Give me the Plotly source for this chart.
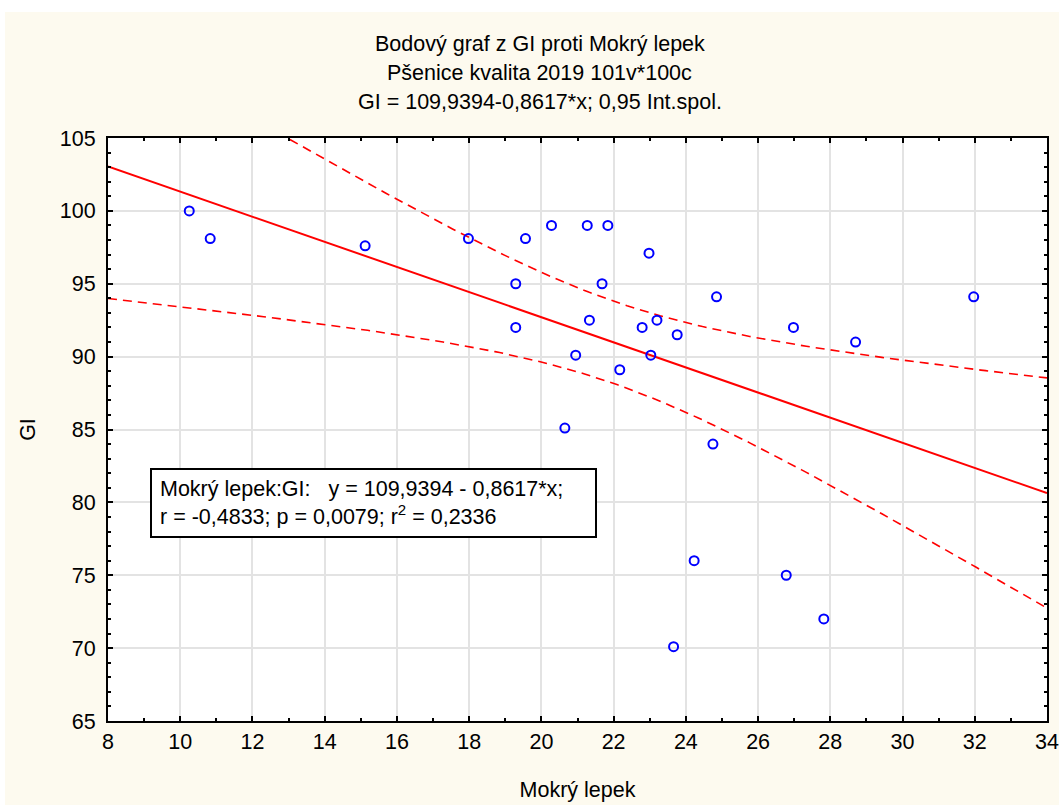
import numpy as np
import plotly.graph_objects as go

# ---- data ----
mokry_lepek = [10.25, 10.83, 15.12, 17.98, 19.56, 20.28, 21.27, 21.84, 22.98,
               19.29, 21.68, 24.85, 26.98, 19.29, 21.33, 22.79, 23.20, 23.76,
               20.95, 23.03, 22.17, 20.65, 24.75, 28.70, 31.97, 24.23, 26.78,
               27.82, 23.66]
gi = [100.0, 98.1, 97.6, 98.1, 98.1, 99.0, 99.0, 99.0, 97.1,
      95.0, 95.0, 94.1, 92.0, 92.0, 92.5, 92.0, 92.5, 91.5,
      90.1, 90.1, 89.1, 85.1, 84.0, 91.0, 94.1, 76.0, 75.0,
      72.0, 70.1]

intercept = 109.9394
slope = -0.8617
conf_t = 2.0518  # t(0.975, n-2) for n = 29

x_ticks = [8, 10, 12, 14, 16, 18, 20, 22, 24, 26, 28, 30, 32, 34]
y_ticks = [65, 70, 75, 80, 85, 90, 95, 100, 105]

title_lines = ["Bodový graf z GI proti Mokrý lepek",
               "Pšenice kvalita 2019 101v*100c",
               "GI = 109,9394-0,8617*x; 0,95 Int.spol."]
box_text = ("Mokrý lepek:GI:   y = 109,9394 - 0,8617*x;<br>"
            "r = -0,4833; p = 0,0079; r<sup>2</sup> = 0,2336")

# ---- regression line and 95% confidence band ----
xa = np.array(mokry_lepek)
ya = np.array(gi)
n = len(xa)
xm = xa.mean()
sxx = ((xa - xm) ** 2).sum()
resid = ya - (intercept + slope * xa)
s = np.sqrt((resid ** 2).sum() / (n - 2))
xl = np.linspace(x_ticks[0], x_ticks[-1], 200)
yl = intercept + slope * xl
hw = conf_t * s * np.sqrt(1.0 / n + (xl - xm) ** 2 / sxx)

FONT = "Liberation Sans, Arial, sans-serif"
RED = "#FF0000"
FS = 21.5

# plot area geometry (pixels)
W, H = 1059, 805
L, R, T, B = 108, 12, 138, 84
PW, PH = W - L - R, H - T - B

fig = go.Figure()
fig.add_trace(go.Scatter(x=xl, y=yl, mode="lines",
                         line=dict(color=RED, width=2), showlegend=False,
                         hoverinfo="skip"))
fig.add_trace(go.Scatter(x=xl, y=yl + hw, mode="lines",
                         line=dict(color=RED, width=1.6, dash="9px,6px"),
                         showlegend=False, hoverinfo="skip"))
fig.add_trace(go.Scatter(x=xl, y=yl - hw, mode="lines",
                         line=dict(color=RED, width=1.6, dash="9px,6px"),
                         showlegend=False, hoverinfo="skip"))
fig.add_trace(go.Scatter(x=mokry_lepek, y=gi, mode="markers",
                         marker=dict(symbol="circle-open", size=9,
                                     color="#0000FF",
                                     line=dict(width=2, color="#0000FF")),
                         showlegend=False))

axis_common = dict(
    showline=True, linecolor="black", linewidth=2, mirror="ticks",
    ticks="inside", ticklen=5, tickwidth=1.5, tickcolor="black",
    showgrid=True, gridcolor="#E3E3E3", gridwidth=2, zeroline=False,
    automargin=False,
    tickfont=dict(family=FONT, size=FS, color="black"),
    minor=dict(ticks="inside", ticklen=3, tickwidth=1.5, tickcolor="black",
               dtick=1, showgrid=False),
)

fig.update_xaxes(range=[x_ticks[0], x_ticks[-1]], tickvals=x_ticks,
                 title=dict(text="Mokrý lepek", standoff=29,
                            font=dict(family=FONT, size=FS, color="black")),
                 **axis_common)
fig.update_yaxes(range=[y_ticks[0], y_ticks[-1]], tickvals=y_ticks,
                 ticklabelstandoff=6,
                 title=dict(text="GI", standoff=18,
                            font=dict(family=FONT, size=FS, color="black")),
                 **axis_common)

annotations = []
title_y = [1.162, 1.112, 1.062]
for txt, yy in zip(title_lines, title_y):
    annotations.append(dict(text=txt, xref="paper", yref="paper", x=0.46,
                            y=yy, xanchor="center", yanchor="middle",
                            showarrow=False,
                            font=dict(family=FONT, size=FS, color="black")))
annotations.append(dict(text=box_text, xref="paper", yref="paper",
                        x=(150 - L) / PW, y=(H - B - 468) / PH,
                        xanchor="left", yanchor="top", align="left",
                        width=427, height=50,
                        showarrow=False, bgcolor="white",
                        bordercolor="black", borderwidth=2, borderpad=8,
                        font=dict(family=FONT, size=21.5, color="black")))

# thin white strips at the top and left edges of the picture
shapes = [
    dict(type="rect", xref="paper", yref="paper", x0=-0.2, x1=1.1,
         y0=(H - B - 12) / PH, y1=1.4, fillcolor="white", line=dict(width=0),
         layer="below"),
    dict(type="rect", xref="paper", yref="paper", x0=-0.2,
         x1=(5 - L) / PW, y0=-0.3, y1=1.4, fillcolor="white",
         line=dict(width=0), layer="below"),
]

fig.update_layout(
    width=W, height=H,
    margin=dict(l=L, r=R, t=T, b=B),
    paper_bgcolor="#FDFAEF", plot_bgcolor="white",
    font=dict(family=FONT, size=FS, color="black"),
    annotations=annotations, shapes=shapes,
)

fig.write_html(
    "out.html",
    config={"displayModeBar": False},
    post_script="document.body.style.margin='0';"
                "document.body.style.overflow='hidden';",
)
